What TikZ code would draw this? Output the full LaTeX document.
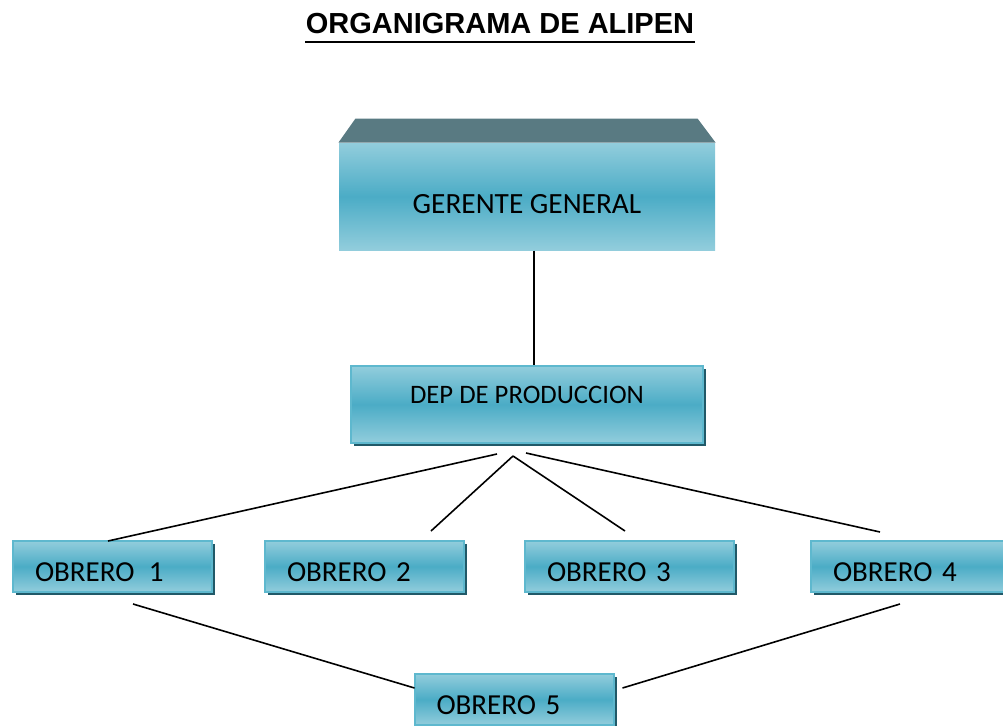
\documentclass[tikz,border=0pt]{standalone}
\usepackage{fontspec}
\setmainfont{Carlito}
\newfontfamily\titulofont{Liberation Sans}
\usetikzlibrary{calc,shadows}

\definecolor{celesteclaro}{RGB}{146,205,220}
\definecolor{celeste}{RGB}{75,172,198}
\definecolor{techo}{RGB}{89,122,130}
\definecolor{sombra}{RGB}{33,89,104}
\definecolor{borde}{RGB}{94,184,206}

\tikzset{every picture/.style={line width=0.75pt}}
\tikzset{
  relleno/.style={top color=celesteclaro, bottom color=celesteclaro, middle color=celeste},
  cargo/.style={relleno, draw=borde, line width=1.5pt, inner sep=0pt,
    drop shadow={shadow xshift=2.25pt, shadow yshift=-2.25pt, fill=sombra, opacity=1},
    font=\fontsize{21.75}{26}\selectfont},
  gerente/.style={relleno, inner sep=0pt, minimum width=282pt, minimum height=80.25pt,
    font=\fontsize{22}{26}\selectfont},
  obrero/.style={cargo, minimum width=149.25pt, minimum height=38.25pt,
    text width=116.25pt, align=left, inner xsep=16.5pt},
  titulo/.style={inner sep=0pt, font=\titulofont\bfseries\fontsize{21.75}{26}\selectfont},
  linea/.style={line width=1.2pt}
}
% moves the text up or down, the node keeps its centre
\newcommand{\bajar}[2]{\raisebox{#1}[\height][\depth]{#2}}

\begin{document}
\begin{tikzpicture}[x=0.75pt,y=0.75pt,yscale=-1,xscale=1]
\useasboundingbox (0,0) rectangle (1003,725);

% Text Node
\node[titulo, anchor=base] (titulo) at (500,33) {ORGANIGRAMA DE ALIPEN};
%Straight Lines
\draw [line width=1.5pt] ($(titulo.base west)+(0,9)$) -- ($(titulo.base east)+(0,9)$);

%Shape: Box
\node[gerente] (gg) at (527,196.5) {\bajar{-6pt}{GERENTE GENERAL}};
%Shape: Trapezoid
\fill [techo] (gg.north west) -- ++(17,-24) -- ++(342,0) -- (gg.north east) -- cycle;

%Shape: Rectangle
\node[cargo, minimum width=264pt, minimum height=57.75pt, font=\fontsize{20}{24}\selectfont] (dep) at (527,404.5) {\bajar{7pt}{DEP DE PRODUCCION}};

%Shape: Rectangle
\node[obrero] (o1) at (112.5,566.5) {\bajar{-4pt}{OBRERO \hspace{3.5pt}1}};
\node[obrero] (o2) at (364.5,566.5) {\bajar{-4pt}{OBRERO 2}};
\node[obrero, minimum width=156.75pt, text width=123.75pt] (o3) at (629.5,566.5) {\bajar{-4pt}{OBRERO 3}};
\node[obrero] (o4) at (910.5,566.5) {\bajar{-4pt}{OBRERO 4}};
\node[obrero] (o5) at (514,699.5) {\bajar{-4pt}{OBRERO 5}};

%Straight Lines
\draw [linea] ([xshift=5.25pt]gg.south) -- ([xshift=5.25pt]dep.north);
\draw [linea] ($(dep.south)+(-30,10)$) -- ($(o1.north)+(-4.5,1)$);
\draw [linea] ($(dep.south)+(-14,12)$) -- ($(o2.north)+(66.5,-9)$);
\draw [linea] ($(dep.south)+(-14,12)$) -- ($(o3.north)+(-4.5,-9)$);
\draw [linea] ($(dep.south)+(-1,9)$) -- ($(o4.north)+(-30.5,-8)$);
\draw [linea] ($(o1.south)+(20.5,11)$) -- ($(o5.west)+(1,-11.5)$);
\draw [linea] ($(o4.south)+(-10.5,11)$) -- ($(o5.east)+(8,-11.5)$);

\end{tikzpicture}
\end{document}
